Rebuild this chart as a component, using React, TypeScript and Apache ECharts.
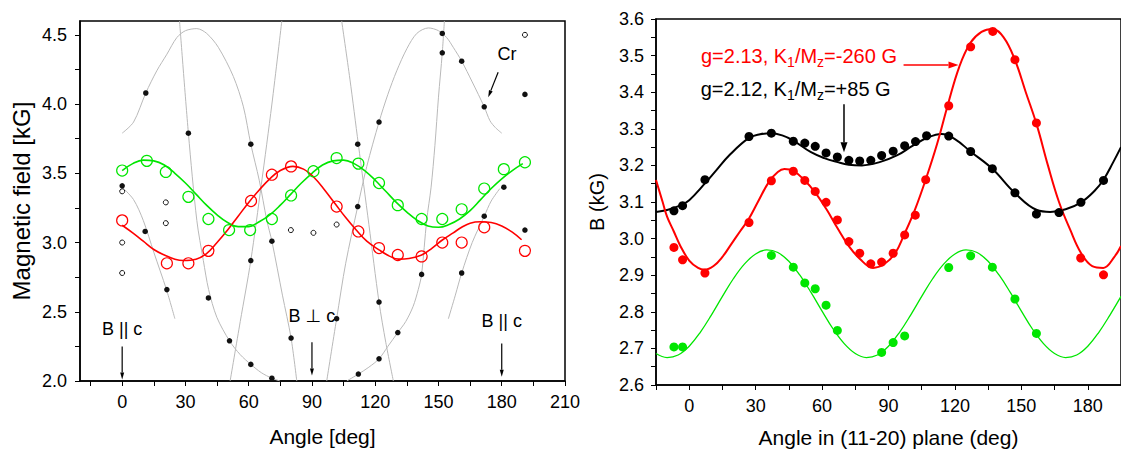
import React, { useEffect, useRef } from 'react';
import * as echarts from 'echarts';

const FONT = '"Liberation Sans", Arial, "DejaVu Sans", sans-serif';
const RED = '#ff0000';
const GREEN = '#00e600';
const GRAY = '#b9b9b9';

// ---------- Left panel: tick values ----------
const leftXLabels = [0, 30, 60, 90, 120, 150, 180, 210];
const leftXTicks = [-15, 0, 15, 30, 45, 60, 75, 90, 105, 120, 135, 150, 165, 180, 195, 210];
const leftYLabels = [2.0, 2.5, 3.0, 3.5, 4.0, 4.5];
const leftYTicks = [2.0, 2.25, 2.5, 2.75, 3.0, 3.25, 3.5, 3.75, 4.0, 4.25, 4.5];

// ---------- Left panel: data ----------
const leftGreenObs = [
  [0, 3.52], [11.7, 3.59], [20.7, 3.51], [31.4, 3.33], [40.9, 3.17], [50.7, 3.09], [60.7, 3.09],
  [71, 3.17], [80.1, 3.34], [90.7, 3.515], [101.7, 3.61], [112, 3.57], [121.8, 3.43], [130.7, 3.27],
  [142, 3.17], [151.8, 3.17], [161, 3.24], [171.7, 3.39], [181, 3.53], [191, 3.58],
];
const leftGreenFit = [
  [0, 3.52], [5, 3.57], [10, 3.595], [15, 3.59], [20, 3.56], [25, 3.50], [30, 3.43], [35, 3.35],
  [40, 3.27], [45, 3.20], [50, 3.145], [55, 3.115], [60, 3.115], [65, 3.15], [70, 3.20], [75, 3.27],
  [80, 3.35], [85, 3.43], [90, 3.50], [95, 3.56], [100, 3.59], [105, 3.595], [110, 3.57], [115, 3.52],
  [120, 3.45], [125, 3.37], [130, 3.29], [135, 3.22], [140, 3.16], [145, 3.12], [150, 3.11],
  [155, 3.13], [160, 3.17], [165, 3.23], [170, 3.31], [175, 3.39], [180, 3.46], [185, 3.52], [190, 3.57],
];
const leftRedObs = [
  [0, 3.16], [21.2, 2.85], [31.4, 2.85], [40.9, 2.94], [61.1, 3.30], [71, 3.49], [80.1, 3.55],
  [101.7, 3.26], [112, 3.08], [121.8, 2.96], [130.7, 2.91], [142, 2.90], [151.8, 3.00],
  [161, 3.00], [171.7, 3.11], [191, 2.94],
];
const leftRedFit = [
  [0, 3.125], [5, 3.07], [10, 3.01], [15, 2.95], [20, 2.91], [25, 2.88], [29, 2.87], [35, 2.88],
  [40, 2.92], [45, 3.00], [50, 3.09], [55, 3.19], [60, 3.29], [65, 3.38], [70, 3.46], [75, 3.52],
  [81, 3.55], [86, 3.53], [91, 3.47], [96, 3.38], [101, 3.28], [106, 3.18], [111, 3.09], [116, 3.01],
  [122, 2.945], [127, 2.90], [131, 2.88], [136, 2.885], [142, 2.91], [147, 2.96], [152, 3.02],
  [157, 3.07], [161, 3.11], [165, 3.14], [170, 3.15], [175, 3.145], [180, 3.12], [185, 3.075], [189.4, 3.02],
];
const leftDotsFilled = [
  [0, 3.41], [11.2, 4.08], [10.9, 3.08], [21.2, 2.66], [31.4, 3.79], [40.9, 2.60], [50.9, 2.29],
  [61, 3.71], [61, 2.87], [61, 2.12], [71, 3.01], [71, 2.02], [80.1, 2.31], [101.7, 2.45],
  [111.7, 3.71], [111.7, 3.26], [112, 2.05], [121.8, 3.87], [121.8, 2.57], [121.8, 2.16],
  [130.7, 2.35], [142, 2.77], [151.8, 4.51], [151.8, 4.37], [161, 4.31], [161, 2.78],
  [171.7, 3.98], [171.7, 3.19], [181, 3.40], [191, 4.07], [191, 3.09],
];
const leftDotsOpen = [
  [0, 3.37], [0, 3.00], [0, 2.78], [20.7, 3.29], [20.7, 3.14], [80, 3.09], [90.7, 3.07],
  [101.7, 3.13], [191, 4.50],
];
// thin gray branches (calculated resonance lines)
const grayA = [[0, 3.40], [5.4, 3.31], [10, 3.16], [15, 2.93], [21, 2.66], [25, 2.45]];
const grayB = [
  [0, 3.79], [5.4, 3.87], [11.2, 4.08], [16.4, 4.24], [21.2, 4.36], [25.9, 4.48], [30, 4.53],
  [35.4, 4.545], [40.1, 4.51], [45.6, 4.41], [52.7, 4.20], [57.5, 3.98], [61, 3.71], [65, 3.45],
  [68.6, 3.16], [71, 3.01], [76, 2.62], [80.1, 2.31], [82.8, 2.0],
];
const grayC = [
  [27.2, 4.6], [31.4, 3.79], [35.4, 3.16], [38.5, 2.87], [41, 2.66], [44.9, 2.46], [50.9, 2.29],
  [56, 2.19], [61, 2.12], [66, 2.06], [71, 2.02], [74.9, 2.0],
];
const grayE = [[51.2, 2.0], [56, 2.43], [61, 2.87], [66, 3.42], [71, 4.0], [75.7, 4.6]];
const grayF = [[104.1, 4.6], [108, 4.18], [112, 3.71], [117, 3.13], [121.8, 2.57], [125, 2.28], [128.6, 2.0]];
const grayG = [
  [97, 2.0], [101.7, 2.45], [106, 2.85], [111.7, 3.26], [116, 3.55], [121.8, 3.87], [126, 4.07],
  [130.2, 4.24], [135, 4.40], [139.7, 4.51], [145.2, 4.55], [150, 4.53], [153.9, 4.48], [157, 4.41],
  [161, 4.31], [166, 4.16], [171.7, 3.98], [174.4, 3.88], [177, 3.83], [180, 3.79],
];
const grayH = [
  [152.8, 4.6], [151.8, 4.37], [150, 4.05], [148.3, 3.70], [146.5, 3.40], [144.4, 3.16], [142, 2.77],
  [140.4, 2.66], [138, 2.54], [134.5, 2.43], [130.7, 2.35], [126, 2.25], [121.8, 2.16], [117, 2.10],
  [112, 2.05], [106.5, 2.0],
];
const grayJ = [[154.7, 2.45], [158, 2.62], [161, 2.78], [166, 3.0], [171.7, 3.19], [175, 3.30], [179.1, 3.39]];

// ---------- Right panel: tick values ----------
const rightXLabels = [0, 30, 60, 90, 120, 150, 180];
const rightXTicks = [-15, 0, 15, 30, 45, 60, 75, 90, 105, 120, 135, 150, 165, 180, 195];
const rightYLabels = [2.6, 2.7, 2.8, 2.9, 3.0, 3.1, 3.2, 3.3, 3.4, 3.5, 3.6];
const rightYTicks = [
  2.6, 2.65, 2.7, 2.75, 2.8, 2.85, 2.9, 2.95, 3.0, 3.05, 3.1, 3.15, 3.2, 3.25, 3.3, 3.35, 3.4, 3.45, 3.5, 3.55, 3.6,
];

// ---------- Right panel: data ----------
const rightBlackObs = [
  [-6.9, 3.076], [-3.0, 3.09], [7.1, 3.161], [27.0, 3.279], [37.1, 3.288], [47.0, 3.266], [52.2, 3.261],
  [56.9, 3.252], [61.8, 3.234], [66.9, 3.223], [72.1, 3.214], [77.0, 3.212], [82.0, 3.214], [86.9, 3.227],
  [92.1, 3.239], [97.3, 3.254], [102.2, 3.265], [107.2, 3.281], [117.2, 3.28], [127.1, 3.238],
  [136.9, 3.191], [147.1, 3.125], [156.8, 3.067], [167.0, 3.071], [176.9, 3.099], [187.1, 3.159],
];
const rightBlackFit = [
  [-15, 3.073], [-10, 3.078], [-4, 3.091], [0, 3.105], [7, 3.15], [12, 3.185], [18, 3.227], [27, 3.275],
  [32, 3.285], [37, 3.288], [42, 3.282], [47, 3.268], [55, 3.236], [61, 3.22], [67, 3.209], [72, 3.202],
  [78, 3.2], [86, 3.209], [94, 3.228], [101, 3.254], [108, 3.277], [114, 3.286], [120, 3.272],
  [127, 3.238], [137, 3.19], [147, 3.125], [157, 3.078], [163, 3.073], [170, 3.08], [177, 3.099],
  [183, 3.13], [187, 3.16], [191.5, 3.209], [195, 3.25],
];
const rightRedObs = [
  [-6.9, 2.976], [-3.0, 2.942], [7.1, 2.906], [27.0, 3.044], [37.1, 3.158], [47.0, 3.184], [52.2, 3.159],
  [56.9, 3.129], [61.8, 3.099], [66.9, 3.051], [72.1, 2.992], [77.0, 2.96], [82.0, 2.931], [86.9, 2.936],
  [92.1, 2.96], [97.3, 3.01], [102.1, 3.064], [106.8, 3.161], [117.2, 3.363], [127.1, 3.524],
  [137.1, 3.566], [147.1, 3.489], [156.8, 3.316], [176.8, 2.947], [187.1, 2.901],
];
const rightRedFit = [
  [-15, 3.16], [-12, 3.10], [-10, 3.06], [-7, 3.02], [-4, 2.98], [0, 2.94], [4, 2.92], [7, 2.915],
  [11, 2.925], [15, 2.95], [19, 2.985], [23, 3.02], [27, 3.055], [31, 3.10], [36, 3.155], [40, 3.182],
  [43, 3.19], [47, 3.185], [52, 3.16], [57, 3.125], [62, 3.08], [67, 3.028], [72, 2.98], [77, 2.945],
  [83, 2.92], [88, 2.93], [93, 2.96], [97, 3.01], [102, 3.08], [107, 3.165], [112, 3.26], [117, 3.37],
  [122, 3.47], [127, 3.535], [132, 3.565], [137, 3.573], [142, 3.55], [147, 3.49], [152, 3.40],
  [157, 3.31], [162, 3.20], [167, 3.10], [172, 3.025], [177, 2.96], [182, 2.925], [187, 2.92],
  [192, 2.95], [195, 2.98],
];
const rightGreenObs = [
  [-6.9, 2.704], [-3.0, 2.704], [37.1, 2.954], [47.0, 2.922], [52.2, 2.879], [56.9, 2.863], [61.8, 2.818],
  [66.9, 2.749], [86.9, 2.689], [92.1, 2.716], [97.3, 2.734], [117.2, 2.921], [127.1, 2.953],
  [136.9, 2.922], [147.1, 2.835], [156.8, 2.741],
];
const rightGreenFit = [
  [-15, 2.686], [-10, 2.675], [-5, 2.682], [0, 2.706], [5, 2.744], [10, 2.791], [15, 2.842], [20, 2.891],
  [25, 2.931], [30, 2.958], [35, 2.969], [40, 2.962], [45, 2.938], [50, 2.9], [55, 2.853], [60, 2.802],
  [65, 2.753], [70, 2.713], [75, 2.686], [80, 2.675], [85, 2.682], [90, 2.706], [95, 2.744], [100, 2.791],
  [105, 2.842], [110, 2.891], [115, 2.931], [120, 2.958], [125, 2.969], [130, 2.962], [135, 2.938],
  [140, 2.9], [145, 2.853], [150, 2.802], [155, 2.753], [160, 2.713], [165, 2.686], [170, 2.675],
  [175, 2.682], [180, 2.706], [185, 2.744], [190, 2.791], [195, 2.842],
];

// ---------- Annotations (data coordinates) ----------
const leftNotes = [
  { text: 'B || c', at: [0, 2.375], arrow: [[0, 2.25], [0, 2.01]] },
  { text: 'B \u22A5 c', at: [90, 2.47], arrow: [[90, 2.28], [90, 2.04]] },
  { text: 'B || c', at: [180, 2.43], arrow: [[180, 2.27], [180, 2.03]] },
  { text: 'Cr', at: [182.5, 4.36], arrow: [[178.3, 4.23], [173.6, 4.05]] },
];
const redNote = { g: '2.13', k: '-260 G', at: [5.3, 3.5], arrow: [[96.8, 3.474], [121.6, 3.474]] };
const blackNote = { g: '2.12', k: '+85 G', at: [5.2, 3.41], arrow: [[69.9, 3.367], [69.9, 3.236]] };

const axisLine = { onZero: false, lineStyle: { color: '#000', width: 1.5 } };
const labelStyle = { color: '#000', fontSize: 18, fontFamily: FONT };
const nameStyle = (size: number) => ({ color: '#000', fontSize: size, fontFamily: FONT });

function lineSeries(data: number[][], color: string, width: number, idx: number, smooth = 0.4) {
  return {
    type: 'line', xAxisIndex: idx, yAxisIndex: idx, data, smooth, symbol: 'none', silent: true,
    lineStyle: { color, width }, z: 2,
  };
}
function scatterSeries(data: number[][], idx: number, size: number, fill: string, stroke: string, bw: number) {
  return {
    type: 'scatter', xAxisIndex: idx, yAxisIndex: idx, data, symbol: 'circle', symbolSize: size, silent: true,
    itemStyle: { color: fill, borderColor: stroke, borderWidth: bw, opacity: 1 }, z: 4,
  };
}

function buildOption() {
  return {
    animation: false,
    backgroundColor: '#fff',
    grid: [
      { left: 80, top: 21, width: 485, height: 360, show: true, borderColor: '#000', borderWidth: 1.5 },
      { left: 656, top: 19, width: 474, height: 368.7, show: true, borderColor: '#000', borderWidth: 1.5 },
    ],
    xAxis: [
      {
        gridIndex: 0, type: 'value', min: -20, max: 210,
        axisLine, splitLine: { show: false },
        axisTick: { customValues: leftXTicks, length: 5, lineStyle: { color: '#000', width: 1 } },
        axisLabel: { ...labelStyle, customValues: leftXLabels, margin: 12, formatter: (v: number) => String(v) },
        name: 'Angle [deg]', nameLocation: 'middle', nameGap: 45, nameTextStyle: nameStyle(21),
      },
      {
        gridIndex: 1, type: 'value', min: -15, max: 195,
        axisLine, splitLine: { show: false },
        axisTick: { customValues: rightXTicks, length: 5, lineStyle: { color: '#000', width: 1 } },
        axisLabel: { ...labelStyle, customValues: rightXLabels, margin: 12, formatter: (v: number) => String(v) },
        name: 'Angle in (11-20) plane (deg)', nameLocation: 'middle', nameGap: 42, nameTextStyle: nameStyle(21),
      },
    ],
    yAxis: [
      {
        gridIndex: 0, type: 'value', min: 2.0, max: 4.6,
        axisLine, splitLine: { show: false },
        axisTick: { customValues: leftYTicks, length: 5, lineStyle: { color: '#000', width: 1 } },
        axisLabel: { ...labelStyle, customValues: leftYLabels, margin: 13, formatter: (v: number) => v.toFixed(1) },
        name: 'Magnetic field [kG]', nameLocation: 'middle', nameGap: 47, nameTextStyle: nameStyle(24),
      },
      {
        gridIndex: 1, type: 'value', min: 2.6, max: 3.6,
        axisLine, splitLine: { show: false },
        axisTick: { customValues: rightYTicks, length: 5, lineStyle: { color: '#000', width: 1 } },
        axisLabel: { ...labelStyle, customValues: rightYLabels, margin: 12, formatter: (v: number) => v.toFixed(1) },
        name: 'B (kG)', nameLocation: 'middle', nameGap: 49, nameTextStyle: nameStyle(20),
      },
    ],
    series: [
      lineSeries(grayA, GRAY, 1, 0, 0.3),
      lineSeries(grayB, GRAY, 1, 0, 0.3),
      lineSeries(grayC, GRAY, 1, 0, 0.3),
      lineSeries(grayE, GRAY, 1, 0, 0.3),
      lineSeries(grayF, GRAY, 1, 0, 0.3),
      lineSeries(grayG, GRAY, 1, 0, 0.3),
      lineSeries(grayH, GRAY, 1, 0, 0.3),
      lineSeries(grayJ, GRAY, 1, 0, 0.3),
      lineSeries(leftGreenFit, GREEN, 1.6, 0),
      lineSeries(leftRedFit, RED, 1.6, 0),
      scatterSeries(leftGreenObs, 0, 11, 'transparent', GREEN, 1.2),
      scatterSeries(leftRedObs, 0, 11, 'transparent', RED, 1.2),
      scatterSeries(leftDotsFilled, 0, 5.5, '#111', '#111', 0),
      scatterSeries(leftDotsOpen, 0, 5, 'transparent', '#111', 1),

      lineSeries(rightGreenFit, GREEN, 1.3, 1),
      lineSeries(rightBlackFit, '#000', 2, 1),
      lineSeries(rightRedFit, RED, 2, 1),
      scatterSeries(rightGreenObs, 1, 9, GREEN, GREEN, 0),
      scatterSeries(rightBlackObs, 1, 9, '#000', '#000', 0),
      scatterSeries(rightRedObs, 1, 9, RED, RED, 0),
    ],
  };
}

function arrow(p1: number[], p2: number[], color: string, headLen: number, headW: number, lw: number) {
  const dx = p2[0] - p1[0];
  const dy = p2[1] - p1[1];
  const L = Math.hypot(dx, dy) || 1;
  const ux = dx / L;
  const uy = dy / L;
  const bx = p2[0] - ux * headLen;
  const by = p2[1] - uy * headLen;
  const nx = -uy;
  const ny = ux;
  return [
    { type: 'line', z: 20, shape: { x1: p1[0], y1: p1[1], x2: bx, y2: by }, style: { stroke: color, lineWidth: lw } },
    {
      type: 'polygon', z: 20,
      shape: { points: [[p2[0], p2[1]], [bx + (nx * headW) / 2, by + (ny * headW) / 2], [bx - (nx * headW) / 2, by - (ny * headW) / 2]] },
      style: { fill: color },
    },
  ];
}

function richNote(note: { g: string; k: string }, color: string) {
  return {
    text: `{n|g=${note.g}, K}{s|1}{n|/M}{s|z}{n|=${note.k}}`,
    rich: {
      n: { fontSize: 20, fontFamily: FONT, fill: color, lineHeight: 26 },
      s: { fontSize: 14, fontFamily: FONT, fill: color, lineHeight: 14, verticalAlign: 'bottom' },
    },
    align: 'left',
    verticalAlign: 'middle',
  };
}

function buildGraphic(chart: any) {
  const P = (g: number, v: number[]) => chart.convertToPixel({ gridIndex: g }, v) as number[];
  const els: any[] = [];
  leftNotes.forEach((n) => {
    const p = P(0, n.at);
    els.push({
      type: 'text', z: 20, x: p[0], y: p[1],
      style: { text: n.text, fill: '#000', fontSize: 18, fontFamily: FONT, align: 'center', verticalAlign: 'middle' },
    });
    els.push(...arrow(P(0, n.arrow[0]), P(0, n.arrow[1]), '#000', 7, 4, 1.2));
  });
  const rp = P(1, redNote.at);
  els.push({ type: 'text', z: 20, x: rp[0], y: rp[1], style: richNote(redNote, RED) });
  els.push(...arrow(P(1, redNote.arrow[0]), P(1, redNote.arrow[1]), RED, 10, 7, 1.5));
  const bp = P(1, blackNote.at);
  els.push({ type: 'text', z: 20, x: bp[0], y: bp[1], style: richNote(blackNote, '#000') });
  els.push(...arrow(P(1, blackNote.arrow[0]), P(1, blackNote.arrow[1]), '#000', 10, 7, 1.5));
  return els;
}

export default function App() {
  const ref = useRef<HTMLDivElement>(null);
  useEffect(() => {
    const chart = echarts.init(ref.current!, null, { renderer: 'svg' });
    chart.setOption(buildOption() as any);
    chart.setOption({ graphic: buildGraphic(chart) } as any);
    return () => chart.dispose();
  }, []);
  return (
    <div
      ref={ref}
      style={{ position: 'fixed', left: 0, top: 0, width: 1121, height: 453, background: '#fff' }}
    />
  );
}
